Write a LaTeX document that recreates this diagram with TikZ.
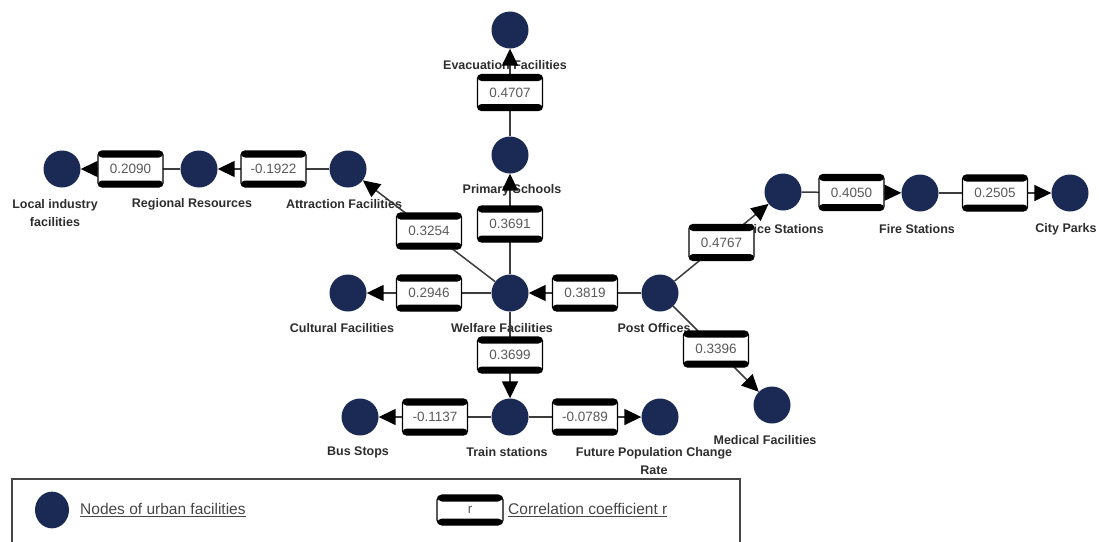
\documentclass[tikz,border=0pt]{standalone}
\usepackage{fontspec}
\setmainfont{Liberation Sans}
\usetikzlibrary{arrows.meta}
\definecolor{navy}{RGB}{27,42,84}
\definecolor{edgecol}{RGB}{60,60,60}
\definecolor{labcol}{RGB}{45,45,45}
\definecolor{numcol}{RGB}{90,90,90}
\definecolor{legcol}{RGB}{70,70,70}
\tikzset{
  fac/.style={circle, fill=navy, minimum size=37pt, inner sep=0pt},
  lab/.style={font=\fontsize{12.5}{18}\selectfont\bfseries, text=labcol, inner sep=0pt, align=center},
  corr/.style={draw=black, line width=1.2pt, fill=white, rounded corners=4pt,
    minimum width=65pt, minimum height=36pt, inner sep=0pt,
    font=\fontsize{13.5}{14}\selectfont, text=numcol,
    path picture={
      \fill[black] (path picture bounding box.north west) rectangle ([yshift=-6.5pt]path picture bounding box.north east);
      \fill[black] (path picture bounding box.south west) rectangle ([yshift=6.5pt]path picture bounding box.south east);}},
  arr/.style={draw=edgecol, line width=1.5pt, -{Triangle[length=17pt,width=16pt,color=black]}},
  legtext/.style={font=\fontsize{15.5}{17}\selectfont, text=legcol, inner sep=0pt, anchor=west},
  legframe/.style={draw=legcol, line width=2pt},
}
\begin{document}
\begin{tikzpicture}[x=1pt,y=-1pt]
\useasboundingbox (0,0) rectangle (1099,541);
% facility nodes
\node[fac] (evac) at (510,30) {};
\node[fac] (prim) at (510,155) {};
\node[fac] (welf) at (510,293) {};
\node[fac] (train) at (510,417) {};
\node[fac] (bus) at (360,417) {};
\node[fac] (future) at (660,417) {};
\node[fac] (cult) at (348,293) {};
\node[fac] (post) at (660,293) {};
\node[fac] (med) at (772,405) {};
\node[fac] (police) at (783,192) {};
\node[fac] (fire) at (920,193) {};
\node[fac] (park) at (1070,193) {};
\node[fac] (attr) at (348,169) {};
\node[fac] (reg) at (199,169) {};
\node[fac] (local) at (62,169) {};
% labels
\node[lab] (evacL) at (505,65) {Evacuation Facilities};
\node[lab] (primL) at (512,190) {Primary Schools};
\node[lab] (welfL) at (502,328) {Welfare Facilities};
\node[lab] (trainL) at (507,452) {Train stations};
\node[lab] (busL) at (358,452) {Bus Stops};
\node[lab] (futureL) at (654,461) {Future Population Change\\Rate};
\node[lab] (cultL) at (342,328) {Cultural Facilities};
\node[lab] (postL) at (654,328) {Post Offices};
\node[lab] (medL) at (765,440) {Medical Facilities};
\node[lab] (policeL) at (779,229) {Police Stations};
\node[lab] (fireL) at (917,229) {Fire Stations};
\node[lab] (parkL) at (1066,229) {City Parks};
\node[lab] (attrL) at (344,204) {Attraction Facilities};
\node[lab] (regL) at (192,204) {Regional Resources};
\node[lab] (localL) at (55,213) {Local industry\\facilities};
% connectors with correlation boxes
\draw[arr] (prim) -- node[corr] (c1) {0.4707} (evac);
\draw[arr] (welf) -- node[corr] (c2) {0.3691} (prim);
\draw[arr] (welf) -- node[corr] (c3) {0.3254} (attr);
\draw[arr] (attr) -- node[corr] (c4) {-0.1922} (reg);
\draw[arr] (reg) -- node[corr] (c5) {0.2090} (local);
\draw[arr] (welf) -- node[corr] (c6) {0.2946} (cult);
\draw[arr] (post) -- node[corr] (c7) {0.3819} (welf);
\draw[arr] (welf) -- node[corr] (c8) {0.3699} (train);
\draw[arr] (train) -- node[corr] (c9) {-0.1137} (bus);
\draw[arr] (train) -- node[corr] (c10) {-0.0789} (future);
\draw[arr] (post) -- node[corr] (c11) {0.4767} (police);
\draw[arr] (police) -- node[corr] (c12) {0.4050} (fire);
\draw[arr] (fire) -- node[corr] (c13) {0.2505} (park);
\draw[arr] (post) -- node[corr] (c14) {0.3396} (med);
% legend
\draw[legframe] (12,548) -- (12,479) -- (740,479) -- (740,548);
\node[fac, minimum size=34pt, yscale=1.08] (legnode) at (52,510) {};
\node[legtext] (legnodeT) at (80,510) {\underline{Nodes of urban facilities}};
\node[corr, minimum width=66pt, minimum height=30pt, rounded corners=5pt] (legcorr) at (470,510) {r};
\node[legtext] (legcorrT) at (508,510) {\underline{Correlation coefficient r}};
\end{tikzpicture}
\end{document}
